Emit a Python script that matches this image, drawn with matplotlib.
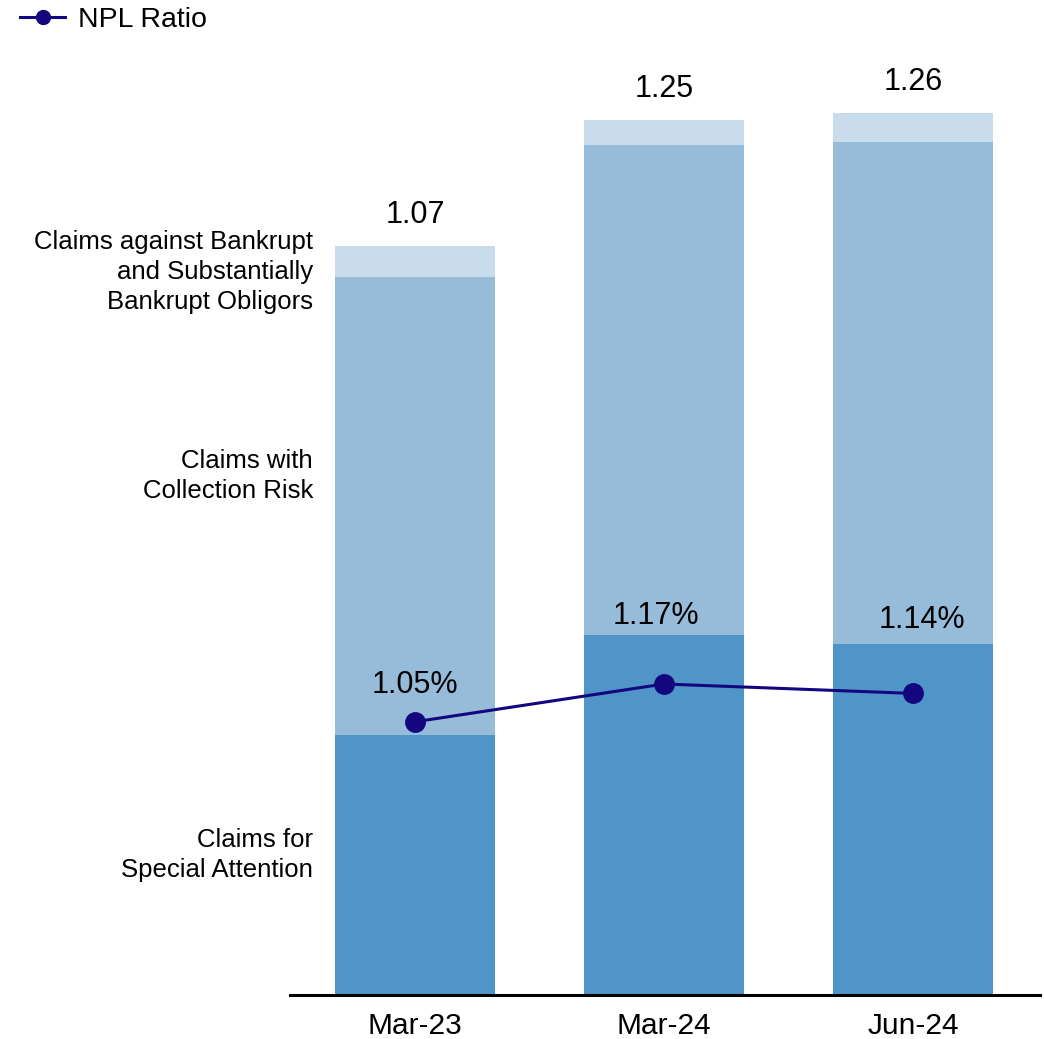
import numpy as np
import matplotlib.pyplot as plt
from matplotlib.lines import Line2D

plt.rcParams['font.family'] = ['Liberation Sans', 'DejaVu Sans']

# data
periods = ['Mar-23', 'Mar-24', 'Jun-24']
special_attention = [0.371, 0.514, 0.501]
collection_risk = [0.655, 0.700, 0.718]
bankrupt = [0.044, 0.036, 0.041]
npl_ratio = [1.05, 1.17, 1.14]

segment_names = ['Claims for\nSpecial Attention',
                 'Claims with\nCollection Risk',
                 'Claims against Bankrupt\nand Substantially\nBankrupt Obligors']

c_dark = '#4f95c8'
c_mid = '#96bcd9'
c_light = '#c9dcec'
c_line = '#13067e'

fig = plt.figure(figsize=(10.44, 10.39), dpi=100)
ax = fig.add_axes([0.2778, 0.0424, 0.7184, 0.90])

x = np.arange(len(periods))
w = 0.643
sa = np.array(special_attention)
cr = np.array(collection_risk)
bk = np.array(bankrupt)
ax.bar(x, sa, w, color=c_dark)
ax.bar(x, cr, w, bottom=sa, color=c_mid)
ax.bar(x, bk, w, bottom=sa + cr, color=c_light)

totals = sa + cr + bk
for xi, t in zip(x, totals):
    ax.annotate(f'{t:.2f}', (xi, t), xytext=(0, 31), textcoords='offset pixels',
                ha='center', va='center', fontsize=22)

ax.set_xlim(-0.502, 2.51)
ax.set_ylim(0, 1.3357)
ax.set_xticks(x)
ax.set_xticklabels(periods, fontsize=21.5)
ax.tick_params(axis='x', length=0, pad=12)
ax.set_yticks([])
for s in ['left', 'right', 'top']:
    ax.spines[s].set_visible(False)
ax.spines['bottom'].set_linewidth(2.2)

# NPL ratio on its own scale
ax2 = ax.twinx()
ax2.plot(x, npl_ratio, color=c_line, lw=2.2, marker='o', ms=14)
ax2.set_ylim(0.183, 3.151)
ax2.set_yticks([])
for s in ax2.spines.values():
    s.set_visible(False)
offsets = [(0, -37), (-8, -68), (9, -73)]
for xi, v, off in zip(x, npl_ratio, offsets):
    ax2.annotate(f'{v:.2f}%', (xi, v), xytext=(off[0], -off[1]), textcoords='offset pixels',
                 ha='center', va='center', fontsize=22)

# segment names at the left
label_y = [855, 476, 272]
for name, py in zip(segment_names, label_y):
    fig.text(313 / 1044, 1 - py / 1039, name, ha='right', va='center',
             multialignment='right', fontsize=18.5, linespacing=1.3)

handle = Line2D([], [], color=c_line, lw=2.2, marker='o', ms=10)
fig.legend([handle], ['NPL Ratio'], loc='upper left', bbox_to_anchor=(0.0, 1.012),
           frameon=False, fontsize=20.5, handlelength=1.6, handletextpad=0.45,
           borderaxespad=0.3)

fig.savefig('out.png', dpi=100)
